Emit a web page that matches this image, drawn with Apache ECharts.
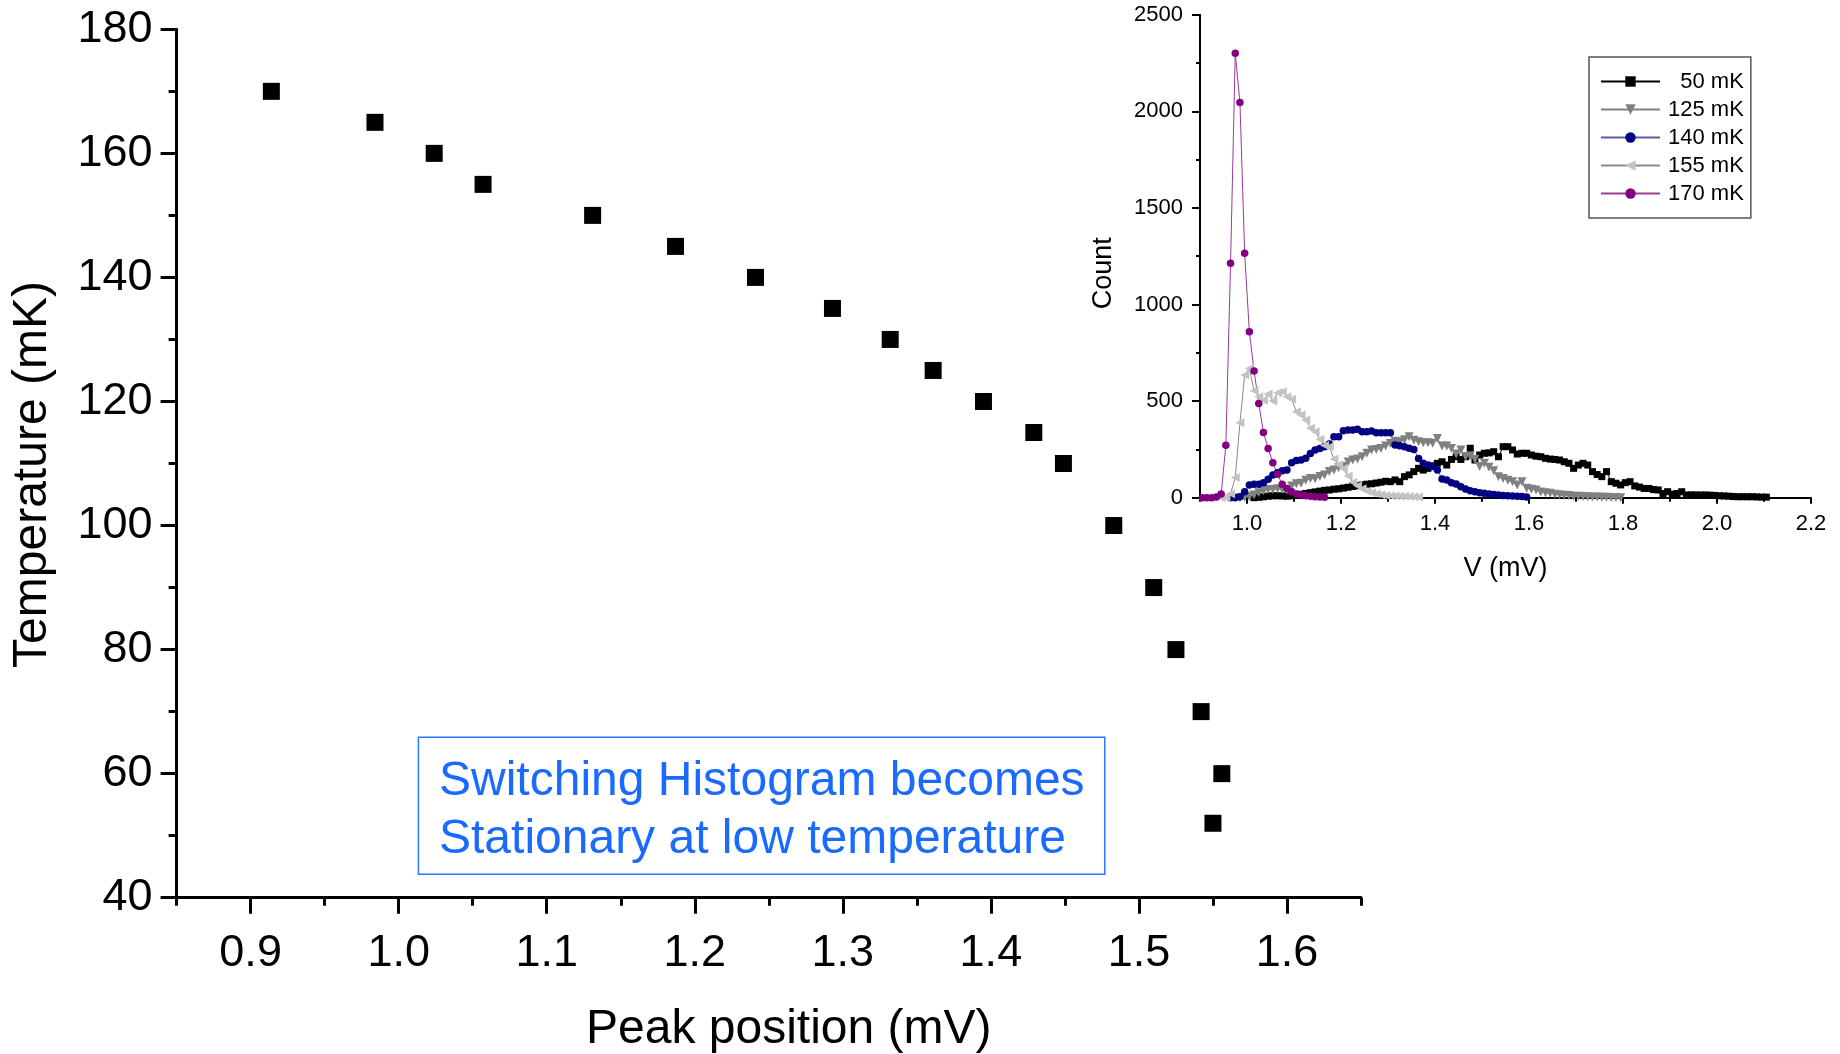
<!DOCTYPE html>
<html>
<head>
<meta charset="utf-8">
<script src="https://cdn.jsdelivr.net/npm/echarts@6/dist/echarts.min.js"></script>
<style>
  html, body { margin: 0; padding: 0; background: #fff; }
  #chart { width: 1840px; height: 1054px; }
</style>
</head>
<body>
<div id="chart"></div>
<script>
// main plot: peak position vs temperature
var peakPos = [0.914, 0.984, 1.024, 1.057, 1.131, 1.187, 1.241, 1.293, 1.332, 1.361, 1.395, 1.429, 1.449, 1.483, 1.510, 1.525, 1.542, 1.556, 1.550];
var temps = [170, 165, 160, 155, 150, 145, 140, 135, 130, 125, 120, 115, 110, 100, 90, 80, 70, 60, 52];

var mainXTicks = [0.9, 1.0, 1.1, 1.2, 1.3, 1.4, 1.5, 1.6];
var mainXMinor = [0.85, 0.95, 1.05, 1.15, 1.25, 1.35, 1.45, 1.55, 1.65];
var insetXTicks = [1.0, 1.2, 1.4, 1.6, 1.8, 2.0, 2.2];
var insetXMinor = [0.9, 1.1, 1.3, 1.5, 1.7, 1.9, 2.1];

// inset histograms, bins of 0.01 mV, first bin centre given
var binWidth = 0.01;
var start50 = 1.015;
var counts50 = [0, 2, 5, 8, 10, 10, 9, 8, 10, 14, 18, 22, 26, 30, 34, 38, 40, 44, 46, 50, 54, 58, 62, 66, 70, 72, 76, 80, 85, 83,
  92, 83, 109, 118, 135, 152, 143, 152, 165, 178, 186, 169, 198, 212, 198, 212, 256, 195, 221, 230, 232, 238, 212, 264, 264,
  247, 226, 230, 230, 221, 215, 212, 204, 200, 198, 195, 186, 178, 152, 169, 178, 169, 135, 120, 109, 135, 83, 75, 66, 78, 83,
  61, 55, 48, 48, 42, 40, 22, 31, 18, 22, 31, 14, 15, 14, 14, 14, 13, 12, 10, 9, 8, 6, 5, 5, 5, 5, 4, 3, 3];
var start125 = 0.985;
var counts125 = [0, 2, 6, 14, 26, 36, 42, 43, 46, 44, 40, 60, 72, 75, 90, 100, 98, 110, 117, 135, 143, 155, 162, 185, 195, 200,
  212, 230, 247, 250, 255, 268, 280, 292, 290, 300, 316, 298, 290, 285, 285, 282, 307, 268, 268, 255, 226, 247, 213, 216, 198,
  161, 178, 157, 140, 109, 100, 90, 83, 66, 83, 49, 44, 40, 30, 26, 23, 18, 15, 13, 11, 8, 7, 6, 5, 4, 3, 2, 2, 1, 1, 0];
var start140 = 0.965;
var counts140 = [0, 0, 5, 31, 66, 69, 69, 78, 95, 117, 129, 140, 143, 181, 192, 195, 204, 229, 247, 255, 264, 278, 316, 316, 347,
  350, 350, 354, 342, 342, 345, 336, 336, 336, 336, 273, 269, 264, 256, 250, 203, 178, 169, 161, 143, 97, 92, 78, 71, 57, 45,
  36, 31, 26, 23, 19, 16, 14, 11, 10, 9, 8, 6, 4];
var start155 = 0.945;
var counts155 = [0, 3, 20, 104, 388, 635, 669, 554, 523, 505, 537, 500, 543, 549, 523, 509, 445, 428, 402, 360, 342, 302, 270,
  264, 200, 170, 150, 112, 80, 62, 46, 34, 25, 20, 15, 12, 10, 9, 8, 7, 6, 5, 3];
var start170 = 0.905;
var counts170 = [0, 0, 0, 3, 19, 272, 1213, 2300, 2045, 1265, 859, 656, 488, 338, 255, 181, 121, 69, 48, 31, 19, 14, 10, 7, 5, 3, 2];

var font = "'Liberation Sans', Arial, sans-serif";

function histData(start, counts) {
  return counts.map(function (c, i) { return [+(start + i * binWidth).toFixed(3), c]; });
}

var myChart = echarts.init(document.getElementById("chart"));
var option;

function histSeries(name, start, counts, symbol, rotate, size, markColor, lineColor) {
  return {
    name: name,
    type: "line",
    xAxisIndex: 2,
    yAxisIndex: 1,
    data: histData(start, counts),
    symbol: symbol,
    symbolRotate: rotate,
    symbolSize: size,
    itemStyle: { color: markColor, opacity: 1 },
    lineStyle: { color: lineColor, width: 1 },
    emphasis: { disabled: true }
  };
}

option = {
  animation: false,
  backgroundColor: "#fff",
  textStyle: { fontFamily: font, color: "#000" },
  grid: [
    { left: 176.6, top: 29.3, width: 1184.4, height: 868.4, outerBoundsMode: "none" },
    { left: 1200, top: 14.7, width: 611, height: 483, outerBoundsMode: "none" }
  ],
  legend: {
    orient: "vertical",
    left: 1589,
    top: 57,
    padding: [13, 7, 13, 11],
    borderColor: "#555",
    borderWidth: 1.5,
    itemWidth: 59,
    itemHeight: 13,
    itemGap: 5,
    formatter: function (name) { return name === "50 mK" ? "  50 mK" : name; },
    textStyle: { fontSize: 22, lineHeight: 23, color: "#000", fontFamily: font, padding: [0, 0, 0, 3] },
    data: ["50 mK", "125 mK", "140 mK", "155 mK", "170 mK"]
  },
  xAxis: [
    {
      gridIndex: 0, type: "value", position: "bottom", min: 0.85, max: 1.65,
      name: "Peak position (mV)", nameLocation: "middle", nameGap: 108,
      nameTextStyle: { fontSize: 48, color: "#000", fontFamily: font, padding: [0, 0, 0, 40] },
      axisLine: { show: true, lineStyle: { color: "#000", width: 3 } },
      axisTick: { show: true, customValues: mainXTicks, length: 16, lineStyle: { color: "#000", width: 3 } },
      axisLabel: { customValues: mainXTicks, fontSize: 45, color: "#000", margin: 33, formatter: function (v) { return v.toFixed(1); } },
      splitLine: { show: false }
    },
    {
      gridIndex: 0, type: "value", position: "bottom", min: 0.85, max: 1.65,
      axisLine: { show: false },
      axisTick: { show: true, customValues: mainXMinor, length: 8, lineStyle: { color: "#000", width: 3 } },
      axisLabel: { show: false },
      splitLine: { show: false }
    },
    {
      gridIndex: 1, type: "value", position: "bottom", min: 0.9, max: 2.2,
      name: "V (mV)", nameLocation: "middle", nameGap: 57,
      nameTextStyle: { fontSize: 27, color: "#000", fontFamily: font },
      axisLine: { show: true, lineStyle: { color: "#000", width: 2 } },
      axisTick: { show: true, customValues: insetXTicks, length: 6, lineStyle: { color: "#000", width: 2 } },
      axisLabel: { customValues: insetXTicks, fontSize: 22, color: "#000", margin: 15, formatter: function (v) { return v.toFixed(1); } },
      splitLine: { show: false }
    },
    {
      gridIndex: 1, type: "value", position: "bottom", min: 0.9, max: 2.2,
      axisLine: { show: false },
      axisTick: { show: true, customValues: insetXMinor, length: 4, lineStyle: { color: "#000", width: 2 } },
      axisLabel: { show: false },
      splitLine: { show: false }
    }
  ],
  yAxis: [
    {
      gridIndex: 0, type: "value", min: 40, max: 180, interval: 20,
      name: "Temperature (mK)", nameLocation: "middle", nameGap: 120,
      nameTextStyle: { fontSize: 48, color: "#000", fontFamily: font, padding: [0, 22, 0, 0] },
      axisLine: { show: true, lineStyle: { color: "#000", width: 3 } },
      axisTick: { show: true, length: 16, lineStyle: { color: "#000", width: 3 } },
      minorTick: { show: true, splitNumber: 2, length: 8, lineStyle: { color: "#000", width: 3 } },
      axisLabel: { fontSize: 45, color: "#000", margin: 24 },
      splitLine: { show: false }
    },
    {
      gridIndex: 1, type: "value", min: 0, max: 2500, interval: 500,
      name: "Count", nameLocation: "middle", nameGap: 83,
      nameTextStyle: { fontSize: 27, color: "#000", fontFamily: font, padding: [0, 34, 0, 0] },
      axisLine: { show: true, lineStyle: { color: "#000", width: 2 } },
      axisTick: { show: true, length: 8, lineStyle: { color: "#000", width: 2 } },
      minorTick: { show: true, splitNumber: 2, length: 4, lineStyle: { color: "#000", width: 2 } },
      axisLabel: { fontSize: 22, color: "#000", margin: 17, formatter: function (v) { return String(v); } },
      splitLine: { show: false }
    }
  ],
  graphic: [
    {
      type: "rect",
      shape: { x: 418.4, y: 737.3, width: 686.4, height: 137 },
      style: { fill: "#fff", stroke: "#2a78ff", lineWidth: 1.5 },
      z: 10
    },
    {
      type: "text",
      x: 439,
      y: 811,
      style: {
        text: "Switching Histogram becomes\nStationary at low temperature",
        font: "48px " + font,
        fill: "#1a6aff",
        lineHeight: 58,
        verticalAlign: "middle",
        align: "left"
      },
      z: 11
    }
  ],
  series: [
    {
      name: "peak",
      type: "scatter",
      xAxisIndex: 0,
      yAxisIndex: 0,
      symbol: "rect",
      symbolSize: 17,
      itemStyle: { color: "#000", opacity: 1 },
      data: peakPos.map(function (p, i) { return [p, temps[i]]; })
    },
    histSeries("50 mK", start50, counts50, "rect", 0, 7, "#000", "#000"),
    histSeries("125 mK", start125, counts125, "triangle", 180, 9, "#808080", "#808080"),
    histSeries("140 mK", start140, counts140, "circle", 0, 7.5, "#000080", "#5a5aa8"),
    histSeries("155 mK", start155, counts155, "triangle", 90, 9, "#c3c3c3", "#8a8a8a"),
    histSeries("170 mK", start170, counts170, "circle", 0, 7.5, "#800080", "#9a3a9a")
  ]
};

option && myChart.setOption(option);
</script>
</body>
</html>
